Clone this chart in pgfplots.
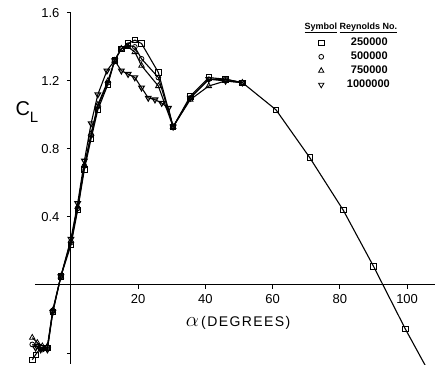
\documentclass[border=0pt]{standalone}
\usepackage{pgfplots}
\pgfplotsset{compat=1.18}
\usepackage{fontspec}
\setmainfont{Liberation Sans}
\begin{document}
\begin{tikzpicture}
\begin{axis}[
  scale only axis, width=435pt, height=364pt,
  xmin=-21.1, xmax=108.3, ymin=-0.465, ymax=1.676,
  axis lines=middle, axis line style={draw=none},
  tick align=outside, major tick length=4pt,
  tick style={black, line width=0.9pt},
  xtick={0,20,40,60,80,100},
  xticklabels={\hspace{12pt}0,20,40,60,80,100},
  ytick={-0.4,0.4,0.8,1.2,1.6},
  yticklabels={,0.4,0.8,1.2,1.6},
  /pgf/number format/assume math mode=true,
  ticklabel style={font=\fontsize{13}{13}\selectfont},
  xticklabel style={yshift=-2pt},
  yticklabel style={xshift=-4pt},
  every axis plot/.append style={black, line width=1.1pt, mark options={solid, fill=white, line width=0.8pt}},
  legend style={draw=none, fill=none, at={(axis cs:73.3,1.47)}, anchor=north west,
    font=\bfseries\fontsize{11}{11}\selectfont, row sep=0.8pt, inner sep=1pt},
  legend cell align=left,
  legend image code/.code={\draw[#1] plot coordinates {(0.3cm,0cm)};},
]
\coordinate (sw) at (rel axis cs:0,0);
\coordinate (ne) at (rel axis cs:1,1);
\draw[line width=1pt] (axis cs:-10.7,0) -- (axis cs:108.3,0);
\draw[line width=1pt] (axis cs:0,1.6) -- (axis cs:0,-0.465);

\addlegendimage{only marks, mark=square, mark size=2.7pt, mark options={line width=0.8pt}}
\addlegendentry{\hspace{25pt}250000}
\addlegendimage{only marks, mark=o, mark size=2.4pt, mark options={line width=0.8pt}}
\addlegendentry{\hspace{25pt}500000}
\addlegendimage{only marks, mark=triangle, mark size=3.1pt, mark options={line width=0.8pt}}
\addlegendentry{\hspace{25pt}750000}
\addlegendimage{only marks, mark=triangle, mark size=3.1pt, mark options={rotate=180, line width=0.8pt}}
\addlegendentry{\hspace{21pt}1000000}

% 1000000
\addplot[mark=triangle, mark size=3.2pt, mark options={rotate=180}, forget plot] coordinates {
(-10.5,-0.37) (-9,-0.38) (-7,-0.38) (-5.4,-0.16) (-3,0.05) (0,0.27) (2,0.48) (4,0.73) (6,0.95) (8,1.12) (10.7,1.26) (13,1.32) (15,1.26) (17,1.24) (19,1.22) (21,1.16) (23,1.10) (25,1.09) (27,1.07) (29,1.04) (30.4,0.93) (35.5,1.10) (41,1.21) (46,1.20) (51,1.19)};
% 750000
\addplot[mark=triangle, mark size=3.2pt, forget plot] coordinates {
(-11.5,-0.31) (-10,-0.34) (-8.5,-0.36) (-7,-0.36) (-5.4,-0.15) (-3,0.05) (0,0.26) (2,0.46) (4,0.70) (6,0.89) (8,1.06) (11,1.20) (13,1.32) (15,1.39) (17,1.40) (19,1.37) (21,1.29) (26,1.17) (30.4,0.93) (35.5,1.09) (41,1.17) (46,1.20) (51,1.19)};
% 500000
\addplot[mark=o, mark size=2.4pt, forget plot] coordinates {
(-11.5,-0.35) (-10,-0.36) (-8.5,-0.38) (-7,-0.37) (-5.4,-0.15) (-3,0.05) (0,0.25) (2,0.45) (4,0.70) (6,0.88) (8,1.05) (11,1.19) (13,1.32) (15,1.39) (17,1.41) (19,1.40) (21,1.33) (26,1.22) (30.4,0.93) (35.5,1.10) (41,1.21) (46,1.21) (51,1.19)};
% 250000
\addplot[mark=square, mark size=2.7pt, forget plot] coordinates {
(-11.5,-0.44) (-10.5,-0.41) (-9,-0.37) (-7,-0.37) (-5.4,-0.16) (-3,0.05) (0,0.235) (2,0.44) (4,0.68) (6,0.86) (8,1.03) (11,1.18) (13,1.32) (15,1.39) (17,1.42) (19,1.44) (21,1.42) (26,1.25) (30.4,0.93) (35.5,1.11) (41,1.22) (46,1.21) (51,1.19) (61,1.03) (71,0.75) (81,0.44) (90,0.11) (99.5,-0.26) (110,-0.64)};

\node[font=\fontsize{20}{20}\selectfont] at (axis cs:-13.1,1.02) {C\raisebox{-0.35em}{\fontsize{15}{15}\selectfont L}};
\node[font=\fontsize{14}{14}\selectfont\addfontfeature{LetterSpace=10}] at (axis cs:49.7,-0.225) {{\fontsize{22}{22}\selectfont$\alpha$}\,(DEGREES)};
\node[font=\bfseries\fontsize{9}{9}\selectfont, anchor=base] at (axis cs:83.3,1.505) {\underline{Symbol}\ \underline{Reynolds No.}};
\end{axis}
\pgfresetboundingbox
\useasboundingbox (sw) rectangle (ne);
\end{tikzpicture}
\end{document}
